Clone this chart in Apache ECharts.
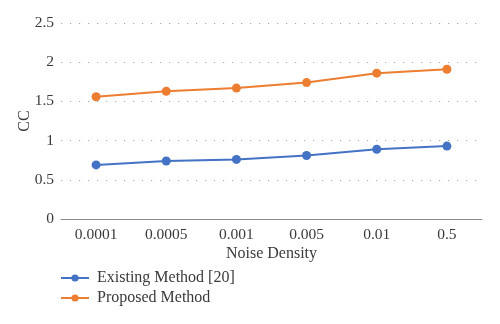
<!DOCTYPE html>
<html>
<head>
<meta charset="utf-8">
<script src="https://cdn.jsdelivr.net/npm/echarts@6/dist/echarts.min.js"></script>
<style>
  html, body { margin: 0; padding: 0; background: #fff; }
  #chart { width: 500px; height: 324px; }
</style>
</head>
<body>
<div id="chart"></div>
<script>
// Noise density levels on the x axis
const categories = ['0.0001', '0.0005', '0.001', '0.005', '0.01', '0.5'];
// CC values per method
const existingMethod = [0.69, 0.74, 0.76, 0.81, 0.89, 0.93];
const proposedMethod = [1.56, 1.63, 1.67, 1.74, 1.86, 1.91];
const seriesNames = ['Existing Method [20]', 'Proposed Method'];

const FONT = '"Liberation Serif", "DejaVu Serif", serif';
const TEXT = '#3a3a3a';
const chart = echarts.init(document.getElementById('chart'), null, { renderer: 'canvas' });

chart.setOption({
  animation: false,
  textStyle: { fontFamily: FONT },
  color: ['#4472C4', '#ED7D31'],
  grid: { left: 61, right: 18, top: 23, bottom: 105, containLabel: false },
  legend: {
    orient: 'vertical',
    left: 60,
    top: 270,
    padding: 0,
    itemWidth: 28,
    itemHeight: 9,
    itemGap: 4,
    textStyle: { fontFamily: FONT, fontSize: 16, color: TEXT, padding: [0, 0, 0, 3] },
    data: seriesNames
  },
  xAxis: {
    type: 'category',
    data: categories,
    boundaryGap: true,
    name: 'Noise Density',
    nameLocation: 'middle',
    nameGap: 27,
    nameMoveOverlap: false,
    nameTextStyle: { fontFamily: FONT, fontSize: 16, color: TEXT },
    axisLine: { lineStyle: { color: '#8c8c8c', width: 1 } },
    axisTick: { show: false },
    axisLabel: { fontFamily: FONT, fontSize: 15.5, color: TEXT, margin: 8 }
  },
  yAxis: {
    type: 'value',
    min: 0,
    max: 2.5,
    interval: 0.5,
    name: 'CC',
    nameLocation: 'middle',
    nameGap: 28,
    nameMoveOverlap: false,
    nameRotate: 90,
    nameTextStyle: { fontFamily: FONT, fontSize: 16, color: TEXT },
    axisLine: { show: false },
    axisTick: { show: false },
    axisLabel: { fontFamily: FONT, fontSize: 15.5, color: TEXT, margin: 7 },
    splitLine: { lineStyle: { color: '#a8a8a8', type: [1.2, 7.8], width: 1.2 } }
  },
  series: [
    {
      name: seriesNames[0],
      type: 'line',
      data: existingMethod,
      symbol: 'circle',
      symbolSize: 9,
      lineStyle: { width: 2 },
      z: 3
    },
    {
      name: seriesNames[1],
      type: 'line',
      data: proposedMethod,
      symbol: 'circle',
      symbolSize: 9,
      lineStyle: { width: 2 },
      z: 3
    }
  ]
});
</script>
</body>
</html>
